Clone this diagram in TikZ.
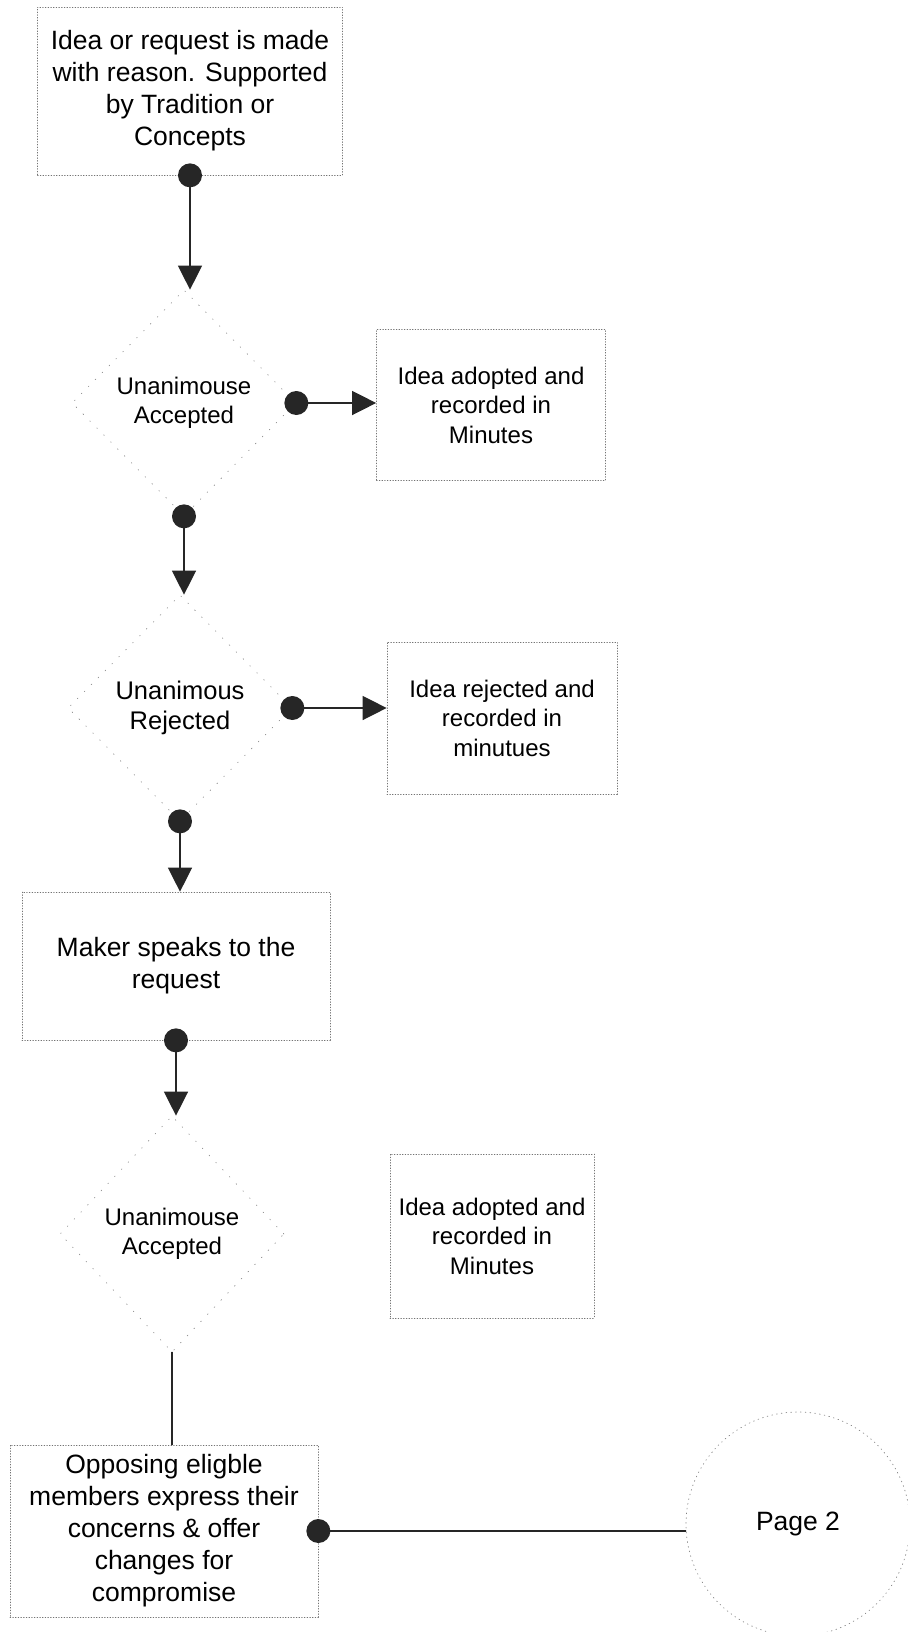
\documentclass[tikz,border=0pt]{standalone}
\usepackage{fontspec}
\setmainfont{Liberation Sans}
\usetikzlibrary{arrows.meta}
\usetikzlibrary{shapes.geometric}

\begin{document}
\begin{tikzpicture}[x=1pt,y=-1pt,line cap=round,line join=round,
    stepbox/.style={draw=black!55,dotted,line width=0.7pt,align=center,inner sep=0pt},
    choice/.style={diamond,draw=black!45,dash pattern=on 0.8pt off 9pt,line width=0.7pt,
      align=center,inner sep=0pt,minimum width=224pt,minimum height=226pt},
    knob/.style={circle,fill=black!85,minimum size=24pt,inner sep=0pt},
    flow/.style={line width=1.4pt,draw=black!85,-{Triangle[width=24pt,length=24pt]}},
    plain/.style={line width=1.4pt,draw=black!85},
    bigtext/.style={font=\fontsize{26.5}{32}\selectfont},
    midtext/.style={font=\fontsize{25.5}{30}\selectfont},
    smalltext/.style={font=\fontsize{24}{29.5}\selectfont}]
      \useasboundingbox (0,0) rectangle (907,1632);
      % boxes of the main column
      \node[stepbox,bigtext,minimum width=305pt,minimum height=168pt] (request) at (190,91)
        {Idea or request is made\\with reason. Supported\\by Tradition or\\Concepts};
      \node[choice,smalltext] (accA) at (184,403) {Unanimouse\\Accepted};
      \node[choice,midtext] (reject) at (180,708) {Unanimous\\Rejected};
      \node[stepbox,bigtext,minimum width=308pt,minimum height=148pt] (maker) at (176,966)
        {Maker speaks to the\\request};
      \node[choice,smalltext,minimum height=236pt] (accB) at (172,1234) {Unanimouse\\Accepted};
      \node[stepbox,bigtext,minimum width=308pt,minimum height=172pt] (oppose) at (164,1531)
        {Opposing eligble\\members express their\\concerns \& offer\\changes for\\compromise};
      % boxes on the right
      \node[stepbox,smalltext,minimum width=229pt,minimum height=151pt] (adoptA) at (491,405)
        {Idea adopted and\\recorded in\\Minutes};
      \node[stepbox,smalltext,minimum width=230pt,minimum height=152pt] (rejected) at (502,718)
        {Idea rejected and\\recorded in\\minutues};
      \node[stepbox,smalltext,minimum width=204pt,minimum height=164pt] (adoptB) at (492,1236)
        {Idea adopted and\\recorded in\\Minutes};
      \node[circle,draw=black!50,dash pattern=on 0.8pt off 4pt,line width=0.7pt,
        minimum size=224pt,inner sep=0pt,bigtext] (page) at (798,1524) {Page 2};
      % connectors
      \draw[flow] (request.south) -- (request.south |- accA.north);
      \draw[flow] (accA.east) -- (accA.east -| adoptA.west);
      \draw[flow] (accA.south) -- (accA.south |- reject.north);
      \draw[flow] (reject.east) -- (reject.east -| rejected.west);
      \draw[flow] (reject.south) -- (reject.south |- maker.north);
      \draw[flow] (maker.south) -- (maker.south |- accB.north);
      \draw[plain] (accB.south) -- (accB.south |- oppose.north);
      \draw[plain] (oppose.east) -- (oppose.east -| page.west);
      % dots
      \node[knob] (dotA) at (request.south) {};
      \node[knob] (dotB) at (accA.east) {};
      \node[knob] (dotC) at (accA.south) {};
      \node[knob] (dotD) at (reject.east) {};
      \node[knob] (dotE) at (reject.south) {};
      \node[knob] (dotF) at (maker.south) {};
      \node[knob] (dotG) at (oppose.east) {};
\end{tikzpicture}
\end{document}
